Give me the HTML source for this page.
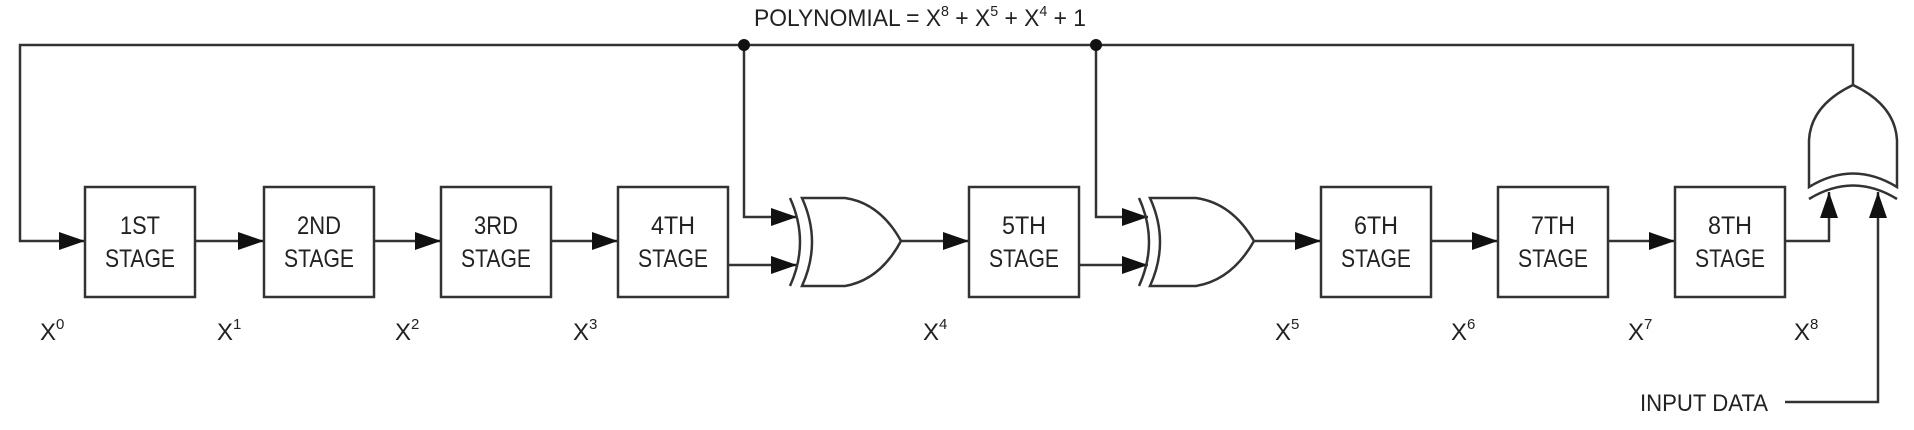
<!DOCTYPE html>
<html><head><meta charset="utf-8"><style>
html,body{margin:0;padding:0;background:#fff;}
svg{display:block;}
text{font-family:"Liberation Sans",sans-serif;fill:#222;}
</style></head><body>
<svg width="1914" height="430" viewBox="0 0 1914 430" xmlns="http://www.w3.org/2000/svg">
<defs>
<marker id="a" markerUnits="userSpaceOnUse" markerWidth="26" markerHeight="20" refX="26" refY="10" orient="auto">
<path d="M0,1 L26,10 L0,19 Z" fill="#111"/></marker>
</defs>
<g stroke="#333" stroke-width="2.5" fill="none">
<path d="M1853,85 L1853,45 L20,45 L20,241 L85,241" marker-end="url(#a)"/>
<path d="M195,241 L264,241" marker-end="url(#a)"/>
<path d="M374,241 L441,241" marker-end="url(#a)"/>
<path d="M551,241 L618,241" marker-end="url(#a)"/>
<path d="M744,45 L744,217 L797,217" marker-end="url(#a)"/>
<path d="M728,265 L797,265" marker-end="url(#a)"/>
<path d="M901,241 L969,241" marker-end="url(#a)"/>
<path d="M1096,45 L1096,217 L1148,217" marker-end="url(#a)"/>
<path d="M1079,265 L1148,265" marker-end="url(#a)"/>
<path d="M1254,241 L1321,241" marker-end="url(#a)"/>
<path d="M1431,241 L1498,241" marker-end="url(#a)"/>
<path d="M1608,241 L1675,241" marker-end="url(#a)"/>
<path d="M1785,241 L1829,241 L1829,192" marker-end="url(#a)"/>
<path d="M1785,402 L1878,402 L1878,192" marker-end="url(#a)"/>
<rect x="85" y="187" width="110" height="110"/>
<rect x="264" y="187" width="110" height="110"/>
<rect x="441" y="187" width="110" height="110"/>
<rect x="618" y="187" width="110" height="110"/>
<rect x="969" y="187" width="110" height="110"/>
<rect x="1321" y="187" width="110" height="110"/>
<rect x="1498" y="187" width="110" height="110"/>
<rect x="1675" y="187" width="110" height="110"/>
<path d="M802,198 L845,198 Q880,203 901,241 Q880,280 845,286 L802,286 Q822,242 802,198 Z" fill="#fff"/>
<path d="M790,198 Q810,242 790,286"/>
<path d="M1150,198 L1196,198 Q1232,203 1254,241 Q1232,280 1196,286 L1150,286 Q1170,242 1150,198 Z" fill="#fff"/>
<path d="M1139,198 Q1159,242 1139,286"/>
<path d="M1809,187 L1809,140 Q1811,105 1853,85 Q1895,105 1897,140 L1897,187 Q1853,160 1809,187 Z" fill="#fff"/>
<path d="M1809,199 Q1853,172 1897,199"/>
</g>
<circle cx="744" cy="45" r="6" fill="#111"/>
<circle cx="1096" cy="45" r="6" fill="#111"/>
<g font-size="25" text-anchor="middle">
<text x="140" y="234" textLength="40" lengthAdjust="spacingAndGlyphs">1ST</text>
<text x="140" y="267" textLength="70" lengthAdjust="spacingAndGlyphs">STAGE</text>
<text x="319" y="234" textLength="44" lengthAdjust="spacingAndGlyphs">2ND</text>
<text x="319" y="267" textLength="70" lengthAdjust="spacingAndGlyphs">STAGE</text>
<text x="496" y="234" textLength="44" lengthAdjust="spacingAndGlyphs">3RD</text>
<text x="496" y="267" textLength="70" lengthAdjust="spacingAndGlyphs">STAGE</text>
<text x="673" y="234" textLength="44" lengthAdjust="spacingAndGlyphs">4TH</text>
<text x="673" y="267" textLength="70" lengthAdjust="spacingAndGlyphs">STAGE</text>
<text x="1024" y="234" textLength="44" lengthAdjust="spacingAndGlyphs">5TH</text>
<text x="1024" y="267" textLength="70" lengthAdjust="spacingAndGlyphs">STAGE</text>
<text x="1376" y="234" textLength="44" lengthAdjust="spacingAndGlyphs">6TH</text>
<text x="1376" y="267" textLength="70" lengthAdjust="spacingAndGlyphs">STAGE</text>
<text x="1553" y="234" textLength="44" lengthAdjust="spacingAndGlyphs">7TH</text>
<text x="1553" y="267" textLength="70" lengthAdjust="spacingAndGlyphs">STAGE</text>
<text x="1730" y="234" textLength="44" lengthAdjust="spacingAndGlyphs">8TH</text>
<text x="1730" y="267" textLength="70" lengthAdjust="spacingAndGlyphs">STAGE</text>
</g>
<g font-size="24">
<text x="40" y="340">X<tspan font-size="15" dy="-11">0</tspan></text>
<text x="217" y="340">X<tspan font-size="15" dy="-11">1</tspan></text>
<text x="395" y="340">X<tspan font-size="15" dy="-11">2</tspan></text>
<text x="573" y="340">X<tspan font-size="15" dy="-11">3</tspan></text>
<text x="923" y="340">X<tspan font-size="15" dy="-11">4</tspan></text>
<text x="1275" y="340">X<tspan font-size="15" dy="-11">5</tspan></text>
<text x="1451" y="340">X<tspan font-size="15" dy="-11">6</tspan></text>
<text x="1628" y="340">X<tspan font-size="15" dy="-11">7</tspan></text>
<text x="1794" y="340">X<tspan font-size="15" dy="-11">8</tspan></text>
<text x="754" y="26" textLength="332" lengthAdjust="spacingAndGlyphs">POLYNOMIAL = X<tspan font-size="15" dy="-10">8</tspan><tspan dy="10"> + X</tspan><tspan font-size="15" dy="-10">5</tspan><tspan dy="10"> + X</tspan><tspan font-size="15" dy="-10">4</tspan><tspan dy="10"> + 1</tspan></text>
<text x="1640" y="411" textLength="128" lengthAdjust="spacingAndGlyphs">INPUT DATA</text>
</g>
</svg>
</body></html>
